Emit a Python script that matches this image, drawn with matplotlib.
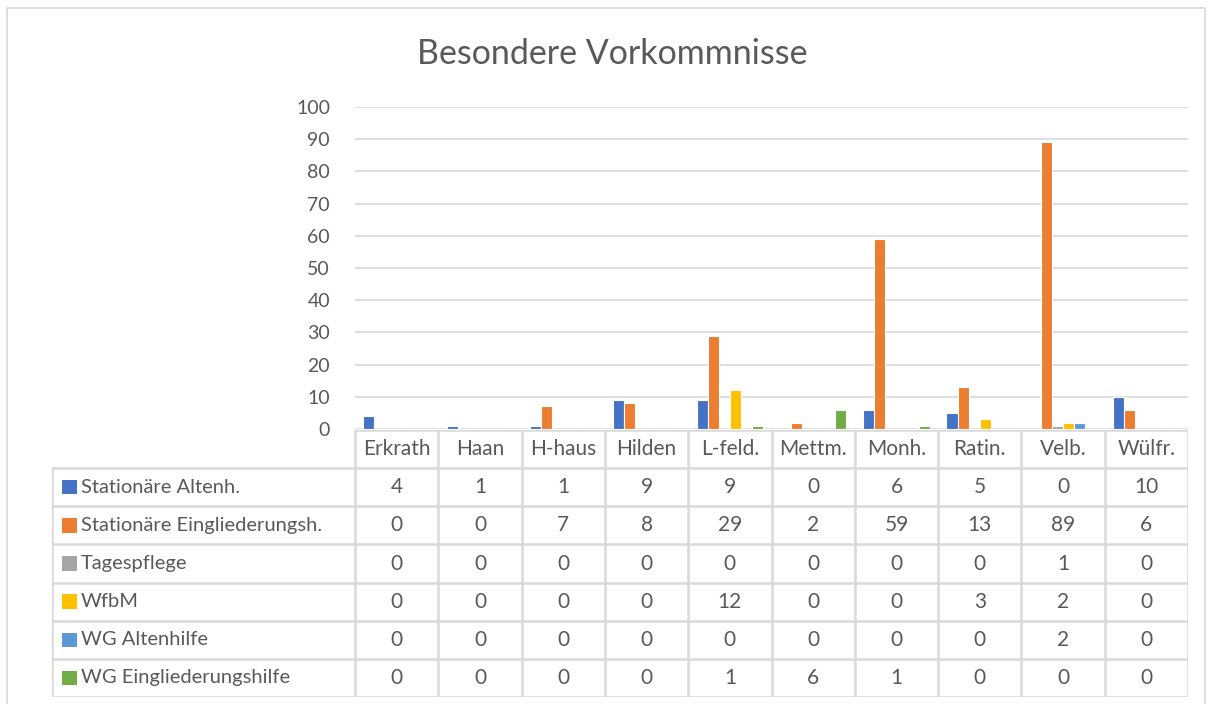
import matplotlib
matplotlib.use('Agg')
import matplotlib.pyplot as plt
import numpy as np

plt.rcParams['font.family'] = ['Lato', 'DejaVu Sans']

# Data
cities = ['Erkrath', 'Haan', 'H-haus', 'Hilden', 'L-feld.', 'Mettm.', 'Monh.', 'Ratin.', 'Velb.', 'Wülfr.']
series_names = ['Stationäre Altenh.', 'Stationäre Eingliederungsh.', 'Tagespflege',
                'WfbM', 'WG Altenhilfe', 'WG Eingliederungshilfe']
stat_altenh = [4, 1, 1, 9, 9, 0, 6, 5, 0, 10]
stat_eingl = [0, 0, 7, 8, 29, 2, 59, 13, 89, 6]
tagespflege = [0, 0, 0, 0, 0, 0, 0, 0, 1, 0]
wfbm = [0, 0, 0, 0, 12, 0, 0, 3, 2, 0]
wg_altenhilfe = [0, 0, 0, 0, 0, 0, 0, 0, 2, 0]
wg_eingl = [0, 0, 0, 0, 1, 6, 1, 0, 0, 0]
yticks = list(range(0, 101, 10))

series = [stat_altenh, stat_eingl, tagespflege, wfbm, wg_altenhilfe, wg_eingl]
colors = ['#4472C4', '#ED7D31', '#A5A5A5', '#FFC000', '#5B9BD5', '#70AD47']
text_color = '#595959'
line_color = '#D9D9D9'

W, H = 1212, 704
fig = plt.figure(figsize=(W / 100, H / 100), dpi=100)

# outer chart border
fig.patches.append(plt.Rectangle((7 / W, -0.05), 1198 / W, (H - 8) / H + 0.05,
                                 transform=fig.transFigure, fill=False,
                                 edgecolor=line_color, lw=1.2))

def px_axes(x0, y0, x1, y1):
    return fig.add_axes([x0 / W, 1 - y1 / H, (x1 - x0) / W, (y1 - y0) / H])

# Bar plot area
ax = px_axes(355, 107, 1188, 429)
x = np.arange(len(cities))
n = len(series)
bw = 1 / (n + 1.5)
for i, (vals, c) in enumerate(zip(series, colors)):
    ax.bar(x + (i - (n - 1) / 2) * bw, vals, width=bw, color=c,
           edgecolor='white', linewidth=0.8, zorder=3)
ax.set_xlim(-0.5, len(cities) - 0.5)
ax.set_ylim(0, 100)
ax.set_yticks(yticks)
ax.set_yticklabels([str(t) for t in yticks], fontsize=14, color=text_color)
ax.set_xticks([])
ax.tick_params(axis='y', length=0, pad=18)
ax.grid(axis='y', color=line_color, lw=1.2, zorder=0)
for s in ax.spines.values():
    s.set_visible(False)

fig.text(612 / W, 1 - 54 / H, 'Besondere Vorkommnisse', fontsize=24.5,
         color=text_color, ha='center', va='center')

# Data table below the chart
tax = px_axes(52, 430, 1188, 697)
left = -0.5 - 303 / ((1188 - 355) / len(cities))
tax.set_xlim(left, len(cities) - 0.5)
nrows = n + 1
tax.set_ylim(nrows, 0)
tax.axis('off')

lkw = dict(color=line_color, lw=1.8, solid_capstyle='projecting')
# horizontal lines
tax.plot([-0.5, len(cities) - 0.5], [0, 0], **lkw)
for r in range(1, nrows + 1):
    tax.plot([left, len(cities) - 0.5], [r, r], **lkw)
# vertical lines
tax.plot([left, left], [1, nrows], **lkw)
for k in range(len(cities) + 1):
    tax.plot([k - 0.5, k - 0.5], [0, nrows], **lkw)

for k, city in enumerate(cities):
    tax.text(k, 0.5, city, fontsize=15, color=text_color, ha='center', va='center')

cw = (len(cities) + 0.5 - left) / 1136  # data units per pixel
for i, (name, vals, c) in enumerate(zip(series_names, series, colors)):
    yc = i + 1.5
    tax.add_patch(plt.Rectangle((left + 9 * cw, yc - 0.19), 14 * cw, 0.38,
                                color=c, lw=0))
    tax.text(left + 27 * cw, yc, name, fontsize=14.5, color=text_color,
             ha='left', va='center')
    for k, v in enumerate(vals):
        tax.text(k, yc, str(v), fontsize=15, color=text_color,
                 ha='center', va='center')

fig.savefig('out.png', dpi=100, facecolor='white')
